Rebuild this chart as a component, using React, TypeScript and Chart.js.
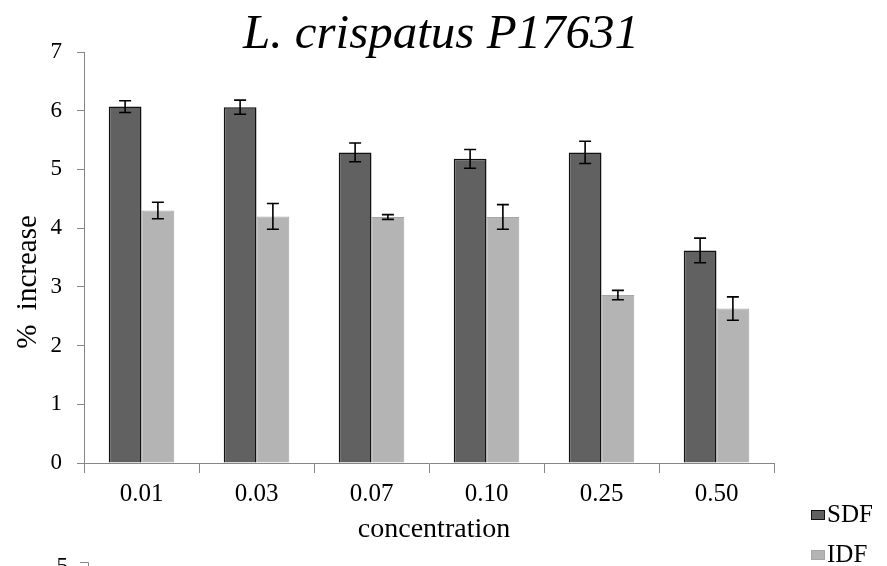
import React, { useEffect, useRef } from "react";
import { Chart, registerables } from "chart.js";

Chart.register(...registerables);

const titleText = "L. crispatus P17631";
const xAxisLabel = "concentration";
const yAxisLabel = "% increase";
const categories = ["0.01", "0.03", "0.07", "0.10", "0.25", "0.50"];
const seriesNames = ["SDF", "IDF"];
const sdfValues = [6.07, 6.06, 5.29, 5.18, 5.29, 3.62];
const sdfErrors = [0.1, 0.12, 0.16, 0.16, 0.19, 0.21];
const idfValues = [4.3, 4.2, 4.19, 4.19, 2.86, 2.63];
const idfErrors = [0.14, 0.22, 0.04, 0.21, 0.08, 0.2];
const yMin = 0;
const yMax = 7;
const yStep = 1;
const nextChartTick = "5";

const FONT = "'Liberation Serif', 'Times New Roman', serif";
const SDF_FILL = "#616161";
const SDF_BORDER = "#111111";
const IDF_FILL = "#b4b4b4";
const IDF_BORDER = "#a6a6a6";
const AXIS_COLOR = "#868686";

const errorsByDataset = [sdfErrors, idfErrors];

const decorPlugin = {
  id: "decor",
  afterDatasetsDraw(chart: any) {
    const ctx = chart.ctx;
    const yScale = chart.scales.y;
    ctx.save();
    ctx.strokeStyle = "#000000";
    ctx.lineWidth = 1.6;
    chart.data.datasets.forEach((ds: any, di: number) => {
      const meta = chart.getDatasetMeta(di);
      const errs = errorsByDataset[di];
      meta.data.forEach((bar: any, i: number) => {
        const v = ds.data[i];
        const e = errs[i];
        const x = bar.x;
        const yt = yScale.getPixelForValue(v + e);
        const yb = yScale.getPixelForValue(v - e);
        const cap = 6;
        ctx.beginPath();
        ctx.moveTo(x, yt);
        ctx.lineTo(x, yb);
        ctx.moveTo(x - cap, yt);
        ctx.lineTo(x + cap, yt);
        ctx.moveTo(x - cap, yb);
        ctx.lineTo(x + cap, yb);
        ctx.stroke();
      });
    });
    ctx.restore();
  },
  afterDraw(chart: any) {
    const ctx = chart.ctx;
    ctx.save();
    ctx.fillStyle = "#000000";
    // title
    ctx.font = `italic 49px ${FONT}`;
    ctx.textAlign = "center";
    ctx.textBaseline = "alphabetic";
    ctx.fillText(titleText, 441, 48);
    // x axis label
    ctx.font = `28px ${FONT}`;
    ctx.fillText(xAxisLabel, 434, 537);
    // y axis label
    ctx.save();
    ctx.translate(36, 282);
    ctx.rotate(-Math.PI / 2);
    ctx.font = `29px ${FONT}`;
    ctx.textAlign = "center";
    ctx.fillText(yAxisLabel.replace(" ", "  "), 0, 0);
    ctx.restore();
    // legend
    const lx = 811;
    const rows = [522, 562];
    chart.data.datasets.forEach((ds: any, di: number) => {
      const by = rows[di];
      ctx.fillStyle = ds.backgroundColor;
      ctx.fillRect(lx, by - 12, 14, 10);
      ctx.strokeStyle = ds.borderColor;
      ctx.lineWidth = 1;
      ctx.strokeRect(lx + 0.5, by - 11.5, 13, 9);
      ctx.fillStyle = "#000000";
      ctx.font = `25px ${FONT}`;
      ctx.textAlign = "left";
      ctx.fillText(ds.label, lx + 16, by);
    });
    // fragment of the next chart below
    ctx.fillStyle = "#000000";
    ctx.font = `23px ${FONT}`;
    ctx.textAlign = "right";
    ctx.fillText(nextChartTick, 68, 573);
    ctx.strokeStyle = AXIS_COLOR;
    ctx.lineWidth = 1;
    ctx.beginPath();
    ctx.moveTo(80, 562.5);
    ctx.lineTo(88.5, 562.5);
    ctx.lineTo(88.5, 566);
    ctx.stroke();
    ctx.restore();
  },
};

export default function App() {
  const ref = useRef<HTMLCanvasElement | null>(null);
  useEffect(() => {
    if (!ref.current) return;
    const chart = new Chart(ref.current, {
      type: "bar",
      data: {
        labels: categories,
        datasets: [
          {
            label: seriesNames[0],
            data: sdfValues,
            backgroundColor: SDF_FILL,
            borderColor: SDF_BORDER,
            borderWidth: 1.5,
            categoryPercentage: 0.57,
            barPercentage: 1.0,
          },
          {
            label: seriesNames[1],
            data: idfValues,
            backgroundColor: IDF_FILL,
            borderColor: IDF_BORDER,
            borderWidth: 1,
            categoryPercentage: 0.57,
            barPercentage: 1.0,
          },
        ],
      },
      options: {
        animation: false,
        responsive: false,
        devicePixelRatio: 1,
        layout: { padding: { top: 52, left: 0, right: 113, bottom: 63 } },
        plugins: {
          legend: { display: false },
          title: { display: false },
          tooltip: { enabled: false },
        },
        scales: {
          x: {
            afterFit: (s: any) => {
              s.height = 40;
            },
            grid: {
              offset: true,
              drawOnChartArea: false,
              drawTicks: true,
              tickLength: 10,
              color: AXIS_COLOR,
            },
            border: { display: true, color: AXIS_COLOR, width: 1 },
            ticks: {
              color: "#000000",
              padding: 6,
              font: { family: FONT, size: 25 },
              maxRotation: 0,
            },
          },
          y: {
            min: yMin,
            max: yMax,
            afterFit: (s: any) => {
              s.width = 84;
            },
            grid: {
              drawOnChartArea: false,
              drawTicks: true,
              tickLength: 7,
              color: AXIS_COLOR,
            },
            border: { display: true, color: AXIS_COLOR, width: 1 },
            ticks: {
              stepSize: yStep,
              color: "#000000",
              padding: 15,
              font: { family: FONT, size: 23 },
            },
          },
        },
      },
      plugins: [decorPlugin],
    });
    return () => chart.destroy();
  }, []);
  return (
    <div style={{ position: "fixed", left: 0, top: 0, width: 887, height: 566, background: "#ffffff" }}>
      <canvas ref={ref} width={887} height={566} style={{ display: "block" }} />
    </div>
  );
}
